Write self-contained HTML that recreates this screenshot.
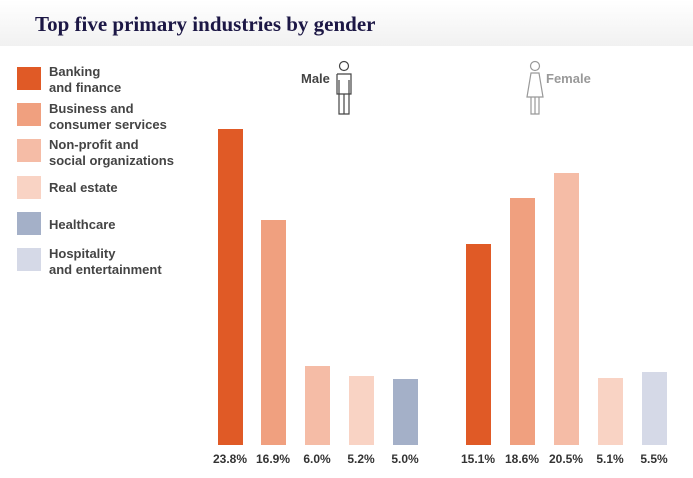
<!DOCTYPE html><html><head><style>
body{margin:0;width:693px;height:478px;background:#fff;position:relative;overflow:hidden;font-family:"Liberation Sans",sans-serif}
.hdr{position:absolute;left:0;top:0;width:693px;height:46px;background:linear-gradient(#fff,#f1f1f1)}
.t{position:absolute;left:35px;top:12px;font-family:"Liberation Serif",serif;font-weight:bold;font-size:21px;color:#1c1745}
.sq{position:absolute;left:17px;width:24px;height:23px}
.lt{position:absolute;left:49px;font-size:13px;font-weight:bold;color:#444;line-height:16px}
.b{position:absolute;width:25px;bottom:33px}
.v{position:absolute;top:452px;font-size:12px;font-weight:bold;color:#333;width:44px;text-align:center}
</style></head><body>
<div class="hdr"></div><div class="t">Top five primary industries by gender</div>
<div class="sq" style="top:67px;background:#e05a26"></div><div class="lt" style="top:64px">Banking<br>and finance</div>
<div class="sq" style="top:103px;background:#f0a07f"></div><div class="lt" style="top:101px">Business and<br>consumer services</div>
<div class="sq" style="top:139px;background:#f5bca6"></div><div class="lt" style="top:137px">Non-profit and<br>social organizations</div>
<div class="sq" style="top:176px;background:#f9d3c4"></div><div class="lt" style="top:180px">Real estate</div>
<div class="sq" style="top:212px;background:#a4b0c8"></div><div class="lt" style="top:217px">Healthcare</div>
<div class="sq" style="top:248px;background:#d5d9e7"></div><div class="lt" style="top:246px">Hospitality<br>and entertainment</div>
<div class="lt" style="left:301px;top:71px;color:#444">Male</div>
<svg style="position:absolute;left:334px;top:60px" width="20" height="55" fill="none" stroke="#444" stroke-width="1.2"><circle cx="10" cy="6" r="4.5"/><path d="M3 14h14v20h-2v-14M3 14v20h2v-14M5 34h10v20h-10zM10 34v20"/></svg>
<svg style="position:absolute;left:525px;top:60px" width="20" height="55" fill="none" stroke="#999" stroke-width="1.2"><circle cx="10" cy="6" r="4.5"/><path d="M6 13h8l4 24h-16zM6 37v17h8v-17M10 37v17"/></svg>
<div class="lt" style="left:546px;top:71px;color:#999">Female</div>
<div class="b" style="left:218px;height:316px;background:#e05a26"></div>
<div class="b" style="left:261px;height:225px;background:#f0a07f"></div>
<div class="b" style="left:305px;height:79px;background:#f5bca6"></div>
<div class="b" style="left:349px;height:69px;background:#f9d3c4"></div>
<div class="b" style="left:393px;height:66px;background:#a4b0c8"></div>
<div class="b" style="left:466px;height:201px;background:#e05a26"></div>
<div class="b" style="left:510px;height:247px;background:#f0a07f"></div>
<div class="b" style="left:554px;height:272px;background:#f5bca6"></div>
<div class="b" style="left:598px;height:67px;background:#f9d3c4"></div>
<div class="b" style="left:642px;height:73px;background:#d5d9e7"></div>
<div class="v" style="left:208px">23.8%</div><div class="v" style="left:251px">16.9%</div><div class="v" style="left:295px">6.0%</div><div class="v" style="left:339px">5.2%</div><div class="v" style="left:383px">5.0%</div>
<div class="v" style="left:456px">15.1%</div><div class="v" style="left:500px">18.6%</div><div class="v" style="left:544px">20.5%</div><div class="v" style="left:588px">5.1%</div><div class="v" style="left:632px">5.5%</div>
</body></html>
